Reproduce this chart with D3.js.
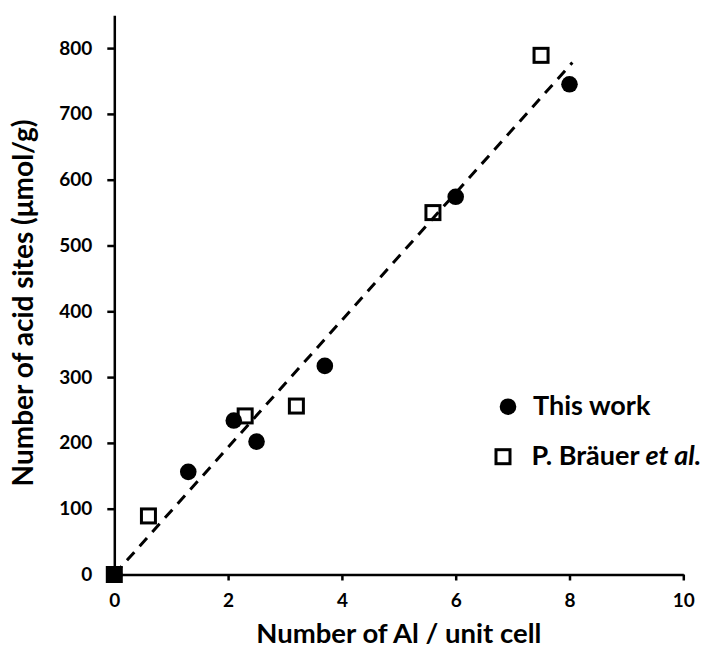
<!DOCTYPE html>
<html>
<head>
<meta charset="utf-8">
<script src="https://cdn.jsdelivr.net/npm/d3@7"></script>
<style>
  body { margin: 0; background: #fff; }
  text { font-family: Lato, "Open Sans", sans-serif; font-weight: bold; fill: #000; }
</style>
</head>
<body>
<div id="chart"></div>
<script>
// values
const workX = [0, 1.3, 2.1, 2.5, 3.7, 6.0, 8.0];
const workY = [0, 156, 234, 202, 317, 574, 745];
const brauerX = [0, 0.6, 2.3, 3.2, 5.6, 7.5];
const brauerY = [0, 89, 241, 256, 550, 789];
const fitX = [0, 8.05];
const fitY = [0, 778];
const xTicks = [0, 2, 4, 6, 8, 10];
const yTicks = [0, 100, 200, 300, 400, 500, 600, 700, 800];

const width = 716, height = 655;
const svg = d3.select("#chart").append("svg")
    .attr("width", width)
    .attr("height", height);

const x = d3.scaleLinear().domain([0, 10]).range([114.3, 683.3]);
const y = d3.scaleLinear().domain([0, 850]).range([574.5, 15.2]);

// axes
const xAxis = svg.append("g")
    .attr("transform", `translate(0,${y(0)})`)
    .call(d3.axisBottom(x).tickValues(xTicks).tickSize(6).tickPadding(13).tickSizeOuter(0));
const yAxis = svg.append("g")
    .attr("transform", `translate(${x(0)},0)`)
    .call(d3.axisLeft(y).tickValues(yTicks).tickSize(7).tickPadding(15).tickSizeOuter(0));

[xAxis, yAxis].forEach(g => {
    g.select(".domain").attr("stroke", "#000").attr("stroke-width", 2.5);
    g.selectAll(".tick line").attr("stroke", "#000").attr("stroke-width", 2.5);
    g.selectAll(".tick text")
        .style("font-family", "Lato, 'Open Sans', sans-serif")
        .style("font-weight", "bold")
        .style("font-size", "19px")
        .attr("fill", "#000");
});

// markers
const brauer = brauerX.map((d, i) => [d, brauerY[i]]);
const work = workX.map((d, i) => [d, workY[i]]);
const sq = 14;

svg.append("g").selectAll("rect")
    .data(brauer)
    .join("rect")
    .attr("x", d => x(d[0]) - sq / 2)
    .attr("y", d => y(d[1]) - sq / 2)
    .attr("width", sq)
    .attr("height", sq)
    .attr("fill", "#fff")
    .attr("stroke", "#000")
    .attr("stroke-width", 3);

svg.append("g").selectAll("circle")
    .data(work)
    .join("circle")
    .attr("cx", d => x(d[0]))
    .attr("cy", d => y(d[1]))
    .attr("r", 8.3)
    .attr("fill", "#000");

// linear fit, dashed
const fit = fitX.map((d, i) => [d, fitY[i]]);
svg.append("path")
    .datum(fit)
    .attr("fill", "none")
    .attr("stroke", "#000")
    .attr("stroke-width", 3)
    .attr("stroke-dasharray", "11,8")
    .attr("d", d3.line().x(d => x(d[0])).y(d => y(d[1])));

// axis titles
svg.append("text")
    .attr("x", (x(0) + x(10)) / 2)
    .attr("y", 643)
    .attr("text-anchor", "middle")
    .style("font-size", "27.5px")
    .text("Number of Al / unit cell");

svg.append("text")
    .attr("transform", "translate(33,303) rotate(-90)")
    .attr("text-anchor", "middle")
    .style("font-size", "28px")
    .text("Number of acid sites (\u03bcmol/g)");

// legend
const legend = svg.append("g");
legend.append("circle")
    .attr("cx", 508).attr("cy", 406.7).attr("r", 8.3).attr("fill", "#000");
legend.append("text")
    .attr("x", 533).attr("y", 415)
    .style("font-size", "27px")
    .text("This work");
legend.append("rect")
    .attr("x", 503 - sq / 2).attr("y", 456.7 - sq / 2)
    .attr("width", sq).attr("height", sq)
    .attr("fill", "#fff").attr("stroke", "#000").attr("stroke-width", 3);
const lt = legend.append("text")
    .attr("x", 531.5).attr("y", 465)
    .style("font-size", "27px");
lt.append("tspan").text("P. Br\u00e4uer ");
lt.append("tspan").style("font-style", "italic").text("et al.");
</script>
</body>
</html>
